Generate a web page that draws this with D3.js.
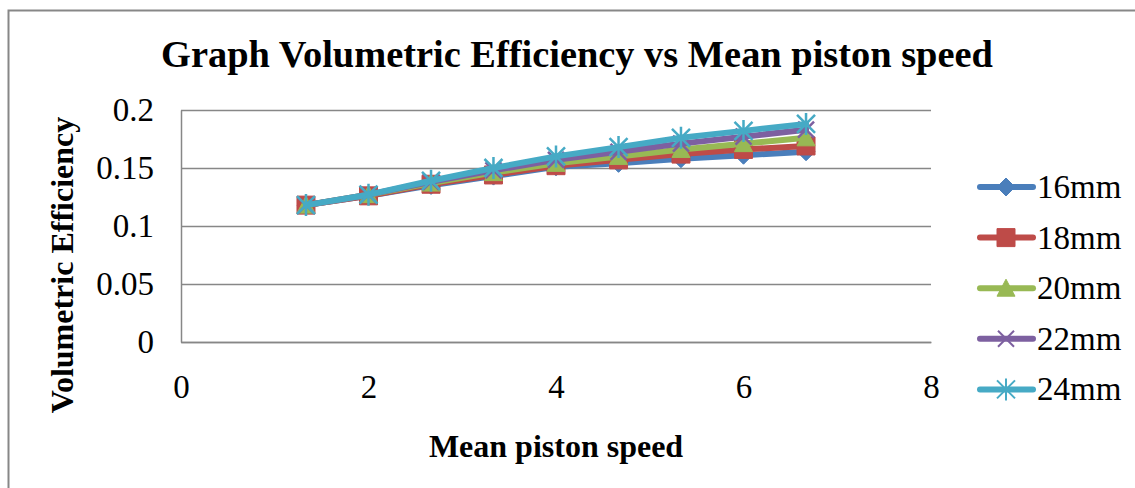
<!DOCTYPE html>
<html>
<head>
<meta charset="utf-8">
<script src="https://cdn.jsdelivr.net/npm/d3@7"></script>
<style>
  body { margin: 0; background: #fff; }
  svg { display: block; }
</style>
</head>
<body>
<div id="chart"></div>
<script>
// mean piston speed (x) and volumetric efficiency per bore
const speeds = [1.333, 2, 2.667, 3.333, 4, 4.667, 5.333, 6, 6.667];
const eff16 = [0.118, 0.126, 0.135, 0.143, 0.151, 0.154, 0.158, 0.161, 0.164];
const eff18 = [0.118, 0.126, 0.136, 0.144, 0.152, 0.157, 0.162, 0.166, 0.169];
const eff20 = [0.118, 0.127, 0.137, 0.146, 0.154, 0.160, 0.166, 0.171, 0.176];
const eff22 = [0.118, 0.127, 0.138, 0.148, 0.157, 0.164, 0.171, 0.177, 0.183];
const eff24 = [0.118, 0.127, 0.139, 0.150, 0.160, 0.168, 0.176, 0.182, 0.188];
const seriesNames = ["16mm", "18mm", "20mm", "22mm", "24mm"];
const xTicks = [0, 2, 4, 6, 8];
const yTicks = [0, 0.05, 0.1, 0.15, 0.2];

const colors = ["#4A7EBB", "#BE4B48", "#98B954", "#7D60A0", "#46AAC5"];
const shapes = ["diamond", "square", "triangle", "cross", "star"];

const W = 1135, H = 488;
const margin = {top: 110, right: 204, bottom: 146, left: 181},
    width = W - margin.left - margin.right,
    height = H - margin.top - margin.bottom;

const serif = "'Liberation Serif', 'Times New Roman', serif";

const svg = d3.select("#chart")
    .append("svg")
    .attr("width", W)
    .attr("height", H);

// outer chart frame (runs off right/bottom edge)
svg.append("rect")
    .attr("x", 8.5).attr("y", 10.5)
    .attr("width", W + 20).attr("height", H + 20)
    .attr("fill", "none")
    .attr("stroke", "#878787")
    .attr("stroke-width", 2);

const g = svg.append("g")
    .attr("transform", `translate(${margin.left}, ${margin.top})`);

const x = d3.scaleLinear().domain([0, 8]).range([0, width]);
const y = d3.scaleLinear().domain([0, 0.2]).range([height, 0]);

// gridlines
g.append("g")
    .call(d3.axisLeft(y).tickValues(yTicks).tickSize(-width).tickFormat(""))
    .call(a => a.select(".domain").remove())
    .selectAll("line")
    .attr("stroke", "#878787")
    .attr("stroke-width", 1.5);

// y axis
const yAxis = g.append("g")
    .call(d3.axisLeft(y).tickValues(yTicks).tickSize(0).tickPadding(27)
        .tickFormat(d => String(+d.toFixed(2))));
yAxis.select(".domain").attr("stroke", "#878787").attr("stroke-width", 1.5);
yAxis.selectAll("text")
    .style("font-family", serif)
    .style("font-size", "33px")
    .attr("fill", "#000");

// x axis
const xAxis = g.append("g")
    .attr("transform", `translate(0, ${height})`)
    .call(d3.axisBottom(x).tickValues(xTicks).tickSize(0).tickPadding(33));
xAxis.select(".domain").attr("stroke", "#878787").attr("stroke-width", 1.5);
xAxis.selectAll("text")
    .style("font-family", serif)
    .style("font-size", "33px")
    .attr("fill", "#000");

// marker paths
function markerPath(shape) {
    if (shape === "diamond") return "M0,-9L9,0L0,9L-9,0Z";
    if (shape === "square") return "M-9,-9L9,-9L9,9L-9,9Z";
    if (shape === "triangle") return "M0,-9L9,8L-9,8Z";
    if (shape === "cross") return "M-8,-8L8,8M-8,8L8,-8";
    return "M-9,-9L9,9M-9,9L9,-9M0,-11L0,11";
}

const allSeries = [eff16, eff18, eff20, eff22, eff24];
const line = d3.line()
    .x((d, i) => x(speeds[i]))
    .y(d => y(d));

allSeries.forEach(function(vals, k) {
    const s = g.append("g");
    s.append("path")
        .datum(vals)
        .attr("d", line)
        .attr("fill", "none")
        .attr("stroke", colors[k])
        .attr("stroke-width", 6)
        .attr("stroke-linejoin", "round")
        .attr("stroke-linecap", "round");
    const stroked = shapes[k] === "cross" || shapes[k] === "star";
    s.selectAll("path.m")
        .data(vals)
        .enter().append("path")
        .attr("class", "m")
        .attr("d", markerPath(shapes[k]))
        .attr("transform", (d, i) => `translate(${x(speeds[i])}, ${y(d)})`)
        .attr("fill", stroked ? "none" : colors[k])
        .attr("stroke", colors[k])
        .attr("stroke-width", stroked ? 2.5 : 1);
});

// legend
const legend = svg.append("g").attr("transform", "translate(980, 187)");
seriesNames.forEach(function(name, k) {
    const row = legend.append("g").attr("transform", `translate(0, ${k * 50.6})`);
    row.append("line")
        .attr("x1", 0).attr("x2", 53)
        .attr("stroke", colors[k])
        .attr("stroke-width", 6)
        .attr("stroke-linecap", "round");
    const stroked = shapes[k] === "cross" || shapes[k] === "star";
    row.append("path")
        .attr("d", markerPath(shapes[k]))
        .attr("transform", "translate(26, 0)")
        .attr("fill", stroked ? "none" : colors[k])
        .attr("stroke", colors[k])
        .attr("stroke-width", stroked ? 2 : 1);
    row.append("text")
        .attr("x", 57).attr("y", 11)
        .style("font-family", serif)
        .style("font-size", "33px")
        .text(name);
});

// titles
svg.append("text")
    .attr("x", 577).attr("y", 67)
    .attr("text-anchor", "middle")
    .style("font-family", serif)
    .style("font-weight", "bold")
    .style("font-size", "38.4px")
    .text("Graph Volumetric Efficiency vs Mean piston speed");

svg.append("text")
    .attr("x", margin.left + width / 2).attr("y", 457)
    .attr("text-anchor", "middle")
    .style("font-family", serif)
    .style("font-weight", "bold")
    .style("font-size", "32px")
    .text("Mean piston speed");

svg.append("text")
    .attr("transform", "translate(73, 265) rotate(-90)")
    .attr("text-anchor", "middle")
    .style("font-family", serif)
    .style("font-weight", "bold")
    .style("font-size", "32px")
    .text("Volumetric Efficiency");
</script>
</body>
</html>
